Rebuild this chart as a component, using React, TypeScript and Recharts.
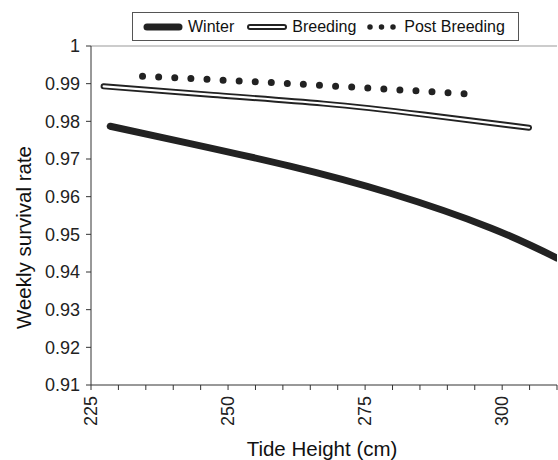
import { LineChart, Line, XAxis, YAxis, Legend, ReferenceLine } from "recharts";

// values
const winterX = [228.5, 243.1, 261.3, 279.6, 297.9, 310];
const winterY = [0.9787, 0.9741, 0.9681, 0.9609, 0.9517, 0.9437];

const breedingX = [227.3, 247.3, 267.4, 285.7, 304.9];
const breedingY = [0.9893, 0.987, 0.9847, 0.9818, 0.9783];

const postX = [234.4, 264.0, 293.3];
const postY = [0.992, 0.9898, 0.9873];

const xTicks = [225, 230, 235, 240, 245, 250, 255, 260, 265, 270, 275, 280, 285, 290, 295, 300, 305, 310];
const xLabelled = [225, 250, 275, 300];
const yTicks = [0.91, 0.92, 0.93, 0.94, 0.95, 0.96, 0.97, 0.98, 0.99, 1];

const toPoints = (xs: number[], ys: number[]) => xs.map((x, i) => ({ x, y: ys[i] }));
const winter = toPoints(winterX, winterY);
const breeding = toPoints(breedingX, breedingY);
const post = toPoints(postX, postY);

const FONT = '"Liberation Sans", Arial, Helvetica, sans-serif';
const INK = "#222";

const XTick = ({ x, y, payload }: any) => {
    if (!xLabelled.includes(payload.value)) return <g />;
    return (
        <text
            x={x}
            y={y}
            transform={`rotate(-90, ${x}, ${y})`}
            textAnchor="end"
            dominantBaseline="central"
            fontSize={18}
            fill={INK}
            fontFamily={FONT}
        >
            {payload.value}
        </text>
    );
};

const YLabel = ({ viewBox }: any) => {
    const cx = viewBox.x + 23;
    const cy = viewBox.y + viewBox.height / 2 + 22;
    return (
        <text
            x={cx}
            y={cy}
            transform={`rotate(-90, ${cx}, ${cy})`}
            textAnchor="middle"
            dominantBaseline="central"
            fontSize={20.5}
            fill="#111"
            fontFamily={FONT}
        >
            Weekly survival rate
        </text>
    );
};

const LegendBox = () => (
    <div style={{ height: 46, position: "relative" }}>
        <div
            style={{
                position: "absolute",
                left: 132,
                top: 12,
                width: 387,
                height: 29,
                boxSizing: "border-box",
                border: "1px solid #555",
                display: "flex",
                alignItems: "center",
                paddingLeft: 10,
                fontSize: 16,
                color: "#111",
                fontFamily: FONT,
                whiteSpace: "nowrap",
            }}
        >
            <svg width={40} height={10}>
                <line x1={4} y1={5} x2={36} y2={5} stroke={INK} strokeWidth={7} strokeLinecap="round" />
            </svg>
            <span style={{ marginLeft: 5 }}>Winter</span>
            <svg width={40} height={10} style={{ marginLeft: 13 }}>
                <line x1={3} y1={5} x2={37} y2={5} stroke={INK} strokeWidth={6} strokeLinecap="round" />
                <line x1={3} y1={5} x2={37} y2={5} stroke="#fff" strokeWidth={2.2} strokeLinecap="round" />
            </svg>
            <span style={{ marginLeft: 5 }}>Breeding</span>
            <svg width={32} height={10} style={{ marginLeft: 10 }}>
                <line x1={4} y1={5} x2={28} y2={5} stroke={INK} strokeWidth={5.5} strokeLinecap="round" strokeDasharray="0 11.5" />
            </svg>
            <span style={{ marginLeft: 6 }}>Post Breeding</span>
        </div>
    </div>
);

export default function App() {
    return (
        <div style={{ position: "absolute", left: 0, top: 0, width: 558, height: 460, background: "#fff" }}>
            <LineChart width={558} height={460} margin={{ top: 0, right: 1, bottom: 0, left: 0 }}>
                <Legend verticalAlign="top" content={LegendBox} wrapperStyle={{ top: 0, left: 0, width: 557 }} />
                <XAxis
                    type="number"
                    dataKey="x"
                    domain={[225, 310]}
                    ticks={xTicks}
                    interval={0}
                    height={75}
                    tickSize={5}
                    tickMargin={6}
                    tick={<XTick />}
                    stroke="#333"
                    label={{
                        value: "Tide Height (cm)",
                        position: "insideBottom",
                        offset: 4,
                        dx: -2,
                        fontSize: 20.5,
                        fill: "#111",
                        fontFamily: FONT,
                    }}
                    allowDataOverflow
                />
                <YAxis
                    type="number"
                    domain={[0.91, 1]}
                    ticks={yTicks}
                    interval={0}
                    width={91}
                    tickSize={5}
                    tickMargin={6}
                    stroke="#333"
                    tick={{ fontSize: 18, fill: INK, fontFamily: FONT }}
                    tickFormatter={(v: number) => (v === 1 ? "1" : v.toFixed(2))}
                    label={<YLabel />}
                />
                <ReferenceLine y={1} stroke="#999" strokeWidth={1} />
                <Line
                    data={winter}
                    dataKey="y"
                    type="natural"
                    stroke={INK}
                    strokeWidth={7}
                    strokeLinecap="round"
                    dot={false}
                    activeDot={false}
                    isAnimationActive={false}
                />
                <Line
                    data={breeding}
                    dataKey="y"
                    type="natural"
                    stroke={INK}
                    strokeWidth={6}
                    strokeLinecap="round"
                    dot={false}
                    activeDot={false}
                    isAnimationActive={false}
                />
                <Line
                    data={breeding}
                    dataKey="y"
                    type="natural"
                    stroke="#fff"
                    strokeWidth={2.2}
                    strokeLinecap="round"
                    dot={false}
                    activeDot={false}
                    isAnimationActive={false}
                    legendType="none"
                />
                <Line
                    data={post}
                    dataKey="y"
                    type="natural"
                    stroke={INK}
                    strokeWidth={7}
                    strokeLinecap="round"
                    strokeDasharray="0 16.1"
                    dot={false}
                    activeDot={false}
                    isAnimationActive={false}
                />
            </LineChart>
        </div>
    );
}
